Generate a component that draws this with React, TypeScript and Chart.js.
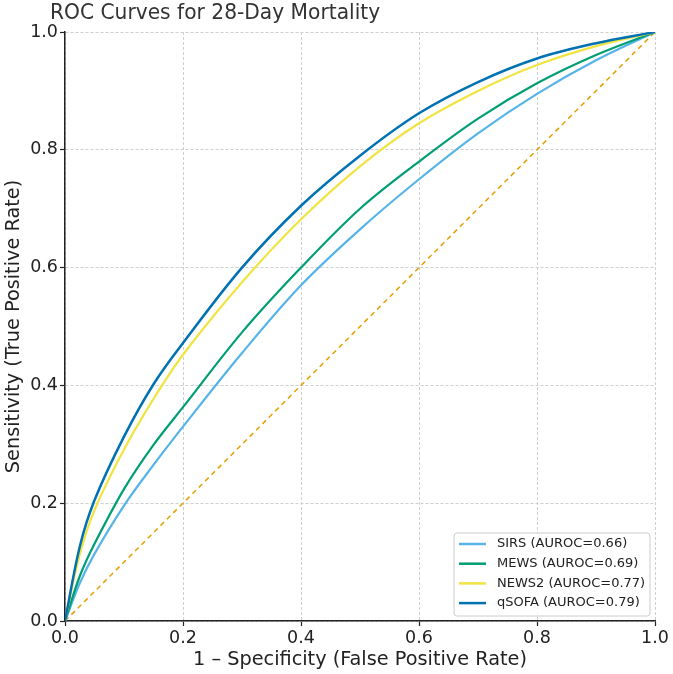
import React, { useEffect, useRef } from "react";
import { Chart, registerables } from "chart.js";

Chart.register(...registerables);

const TITLE = "ROC Curves for 28-Day Mortality";
const X_TITLE = "1 – Specificity (False Positive Rate)";
const Y_TITLE = "Sensitivity (True Positive Rate)";

const FPR = [0, 0.025, 0.05, 0.1, 0.15, 0.2, 0.3, 0.4, 0.5, 0.6, 0.7, 0.8, 0.9, 1];
const SIRS_TPR = [0, 0.064, 0.114, 0.196, 0.265, 0.33, 0.455, 0.57, 0.665, 0.75, 0.828, 0.895, 0.952, 1];
const MEWS_TPR = [0, 0.076, 0.131, 0.224, 0.299, 0.363, 0.49, 0.6, 0.7, 0.78, 0.853, 0.913, 0.961, 1];
const NEWS2_TPR = [0, 0.113, 0.188, 0.291, 0.377, 0.452, 0.575, 0.682, 0.772, 0.845, 0.9, 0.944, 0.976, 1];
const QSOFA_TPR = [0, 0.126, 0.205, 0.313, 0.402, 0.472, 0.6, 0.705, 0.79, 0.862, 0.915, 0.955, 0.981, 1];
const DIAG_X = [0, 1];
const DIAG_Y = [0, 1];

const SERIES_LABELS = ["SIRS (AUROC=0.66)", "MEWS (AUROC=0.69)", "NEWS2 (AUROC=0.77)", "qSOFA (AUROC=0.79)"];
const SERIES_COLORS = ["#56B4E9", "#009E73", "#F0E442", "#0072B2"];
const DIAG_COLOR = "#E69F00";

const FONT = "'DejaVu Sans', sans-serif";
const TEXT_COLOR = "#222";

const toPts = (xs: number[], ys: number[]) => xs.map((x, i) => ({ x, y: ys[i] }));

const titlePlugin = {
  id: "customTitle",
  afterDraw(chart: any) {
    const ctx = chart.ctx;
    ctx.save();
    ctx.font = `21.5px ${FONT}`;
    ctx.fillStyle = "#333";
    ctx.textAlign = "left";
    ctx.textBaseline = "middle";
    ctx.translate(50, 13);
    ctx.scale(0.94, 1);
    ctx.fillText(TITLE, 0, 0);
    ctx.restore();
  },
};

const legendPlugin = {
  id: "customLegend",
  afterDraw(chart: any) {
    const ctx = chart.ctx;
    const area = chart.chartArea;
    const items = chart.data.datasets
      .filter((d: any) => d.inLegend)
      .sort((a: any, b: any) => a.legendIndex - b.legendIndex);
    const w = 196;
    const h = 83;
    const x0 = area.right - 5 - w;
    const y0 = area.bottom - 5 - h;
    ctx.save();
    ctx.beginPath();
    const r = 3;
    ctx.moveTo(x0 + r, y0);
    ctx.lineTo(x0 + w - r, y0);
    ctx.quadraticCurveTo(x0 + w, y0, x0 + w, y0 + r);
    ctx.lineTo(x0 + w, y0 + h - r);
    ctx.quadraticCurveTo(x0 + w, y0 + h, x0 + w - r, y0 + h);
    ctx.lineTo(x0 + r, y0 + h);
    ctx.quadraticCurveTo(x0, y0 + h, x0, y0 + h - r);
    ctx.lineTo(x0, y0 + r);
    ctx.quadraticCurveTo(x0, y0, x0 + r, y0);
    ctx.closePath();
    ctx.fillStyle = "rgba(255,255,255,0.8)";
    ctx.fill();
    ctx.strokeStyle = "#cccccc";
    ctx.lineWidth = 1;
    ctx.stroke();
    ctx.font = `13px ${FONT}`;
    ctx.textAlign = "left";
    ctx.textBaseline = "middle";
    items.forEach((d: any, i: number) => {
      const y = y0 + 11 + i * 19.7;
      ctx.beginPath();
      ctx.strokeStyle = d.borderColor;
      ctx.lineWidth = 2.5;
      ctx.moveTo(x0 + 5, y);
      ctx.lineTo(x0 + 32, y);
      ctx.stroke();
      ctx.fillStyle = TEXT_COLOR;
      ctx.fillText(d.label, x0 + 43, y);
    });
    ctx.restore();
  },
};

const seriesData = [SIRS_TPR, MEWS_TPR, NEWS2_TPR, QSOFA_TPR];

export default function App() {
  const ref = useRef<HTMLCanvasElement>(null);
  useEffect(() => {
    document.body.style.margin = "0";
    const curves = [3, 2, 1, 0].map((i) => ({
      label: SERIES_LABELS[i],
      data: toPts(FPR, seriesData[i]),
      borderColor: SERIES_COLORS[i],
      backgroundColor: SERIES_COLORS[i],
      borderWidth: i === 3 ? 2.5 : 2.2,
      pointRadius: 0,
      tension: 0.35,
      fill: false,
      inLegend: true,
      legendIndex: i,
    }));
    const chart = new Chart(ref.current!, {
      type: "line",
      data: {
        datasets: [
          ...curves,
          {
            label: "Chance",
            data: toPts(DIAG_X, DIAG_Y),
            borderColor: DIAG_COLOR,
            borderWidth: 1.5,
            borderDash: [5, 4],
            pointRadius: 0,
            fill: false,
            inLegend: false,
          } as any,
        ],
      },
      options: {
        animation: false,
        responsive: false,
        layout: { padding: { top: 32, right: 18, left: 0, bottom: 0 } },
        plugins: {
          legend: { display: false },
          title: { display: false },
          tooltip: { enabled: false },
        },
        scales: {
          x: {
            type: "linear",
            min: 0,
            max: 1,
            afterFit: (s: any) => {
              s.height = 53;
            },
            ticks: {
              stepSize: 0.2,
              callback: (v: any) => Number(v).toFixed(1),
              font: { family: FONT, size: 17.5 },
              color: TEXT_COLOR,
              padding: 2,
              maxRotation: 0,
            },
            grid: {
              color: "#cfcfcf",
              lineWidth: 1,
              tickColor: "#222",
              tickLength: 5,
              tickWidth: 1.2,
              tickBorderDash: [],
            },
            border: { color: "#222", width: 1.5, dash: [3, 2] },
            title: {
              display: true,
              text: X_TITLE,
              font: { family: FONT, size: 19.3 },
              color: TEXT_COLOR,
              padding: { top: 0, bottom: 2 },
            },
          },
          y: {
            type: "linear",
            min: 0,
            max: 1,
            afterFit: (s: any) => {
              s.width = 65;
            },
            ticks: {
              stepSize: 0.2,
              callback: (v: any) => Number(v).toFixed(1),
              font: { family: FONT, size: 17.5 },
              color: TEXT_COLOR,
              padding: 2,
            },
            grid: {
              color: "#cfcfcf",
              lineWidth: 1,
              tickColor: "#222",
              tickLength: 5,
              tickWidth: 1.2,
              tickBorderDash: [],
            },
            border: { color: "#222", width: 1.5, dash: [3, 2] },
            title: {
              display: true,
              text: Y_TITLE,
              font: { family: FONT, size: 19.3 },
              color: TEXT_COLOR,
              padding: { top: 2, bottom: 0 },
            },
          },
        },
      } as any,
      plugins: [titlePlugin, legendPlugin],
    });
    return () => chart.destroy();
  }, []);
  return (
    <div style={{ position: "fixed", left: 0, top: 0, width: 673, height: 674 }}>
      <canvas ref={ref} width={673} height={674} />
    </div>
  );
}
